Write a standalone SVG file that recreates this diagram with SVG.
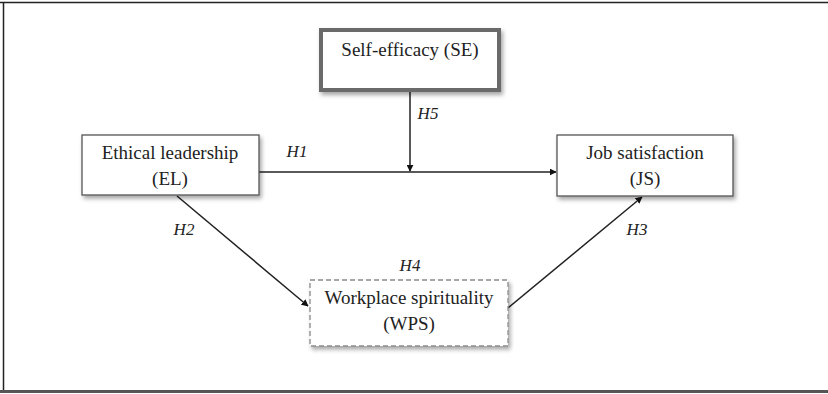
<svg xmlns="http://www.w3.org/2000/svg" width="828" height="394" viewBox="0 0 828 394">
  <style>
    .box { fill: #ffffff; stroke: #555555; stroke-width: 1.3; }
    .thick { stroke: #6a6a6a; stroke-width: 4; }
    .dash { stroke: #8a8a8a; stroke-width: 1.3; stroke-dasharray: 5 3; }
    .lbl { font-family: "Liberation Serif", "DejaVu Serif", serif; font-size: 19px; fill: #222222; text-anchor: middle; }
    .hyp { font-family: "Liberation Serif", "DejaVu Serif", serif; font-size: 17px; font-style: italic; fill: #222222; text-anchor: middle; }
    .edge { stroke: #222222; stroke-width: 1.5; fill: none; marker-end: url(#arrow); }
  </style>
  <defs>
    <marker id="arrow" viewBox="0 0 10 10" refX="9" refY="5" markerWidth="7" markerHeight="7" markerUnits="userSpaceOnUse" orient="auto">
      <path d="M0,0 L10,5 L0,10 z" fill="#111111"/>
    </marker>
    <filter id="shadow" x="-10%" y="-20%" width="125%" height="150%">
      <feDropShadow dx="2" dy="3" stdDeviation="2" flood-color="#000000" flood-opacity="0.35"/>
    </filter>
  </defs>

  <rect width="828" height="394" fill="#ffffff"/>

  <!-- outer frame -->
  <g id="frame">
    <line x1="0" y1="2.5" x2="828" y2="2.5" stroke="#222" stroke-width="1.5"/>
    <line x1="3.5" y1="2" x2="3.5" y2="392" stroke="#222" stroke-width="1.5"/>
    <line x1="0" y1="391.5" x2="828" y2="391.5" stroke="#555" stroke-width="3"/>
  </g>

  <!-- connectors -->
  <g id="connectors">
    <line class="edge" x1="259" y1="172" x2="556" y2="172"/>
    <line class="edge" x1="410" y1="91" x2="410" y2="171"/>
    <line class="edge" x1="177" y1="196" x2="308" y2="306"/>
    <line class="edge" x1="508" y1="308" x2="642" y2="197"/>
    <text class="hyp" x="297" y="157">H1</text>
    <text class="hyp" x="184" y="235">H2</text>
    <text class="hyp" x="637" y="235">H3</text>
    <text class="hyp" x="410" y="271">H4</text>
    <text class="hyp" x="428" y="119">H5</text>
  </g>

  <g id="self-efficacy">
    <rect class="box thick" x="321" y="30" width="178" height="60" filter="url(#shadow)"/>
    <text class="lbl" x="410" y="56">Self-efficacy (SE)</text>
  </g>

  <g id="ethical-leadership">
    <rect class="box" x="82" y="135" width="177" height="60" filter="url(#shadow)"/>
    <text class="lbl" x="170" y="159">Ethical leadership</text>
    <text class="lbl" x="170" y="185">(EL)</text>
  </g>

  <g id="job-satisfaction">
    <rect class="box" x="557" y="135" width="176" height="61" filter="url(#shadow)"/>
    <text class="lbl" x="645" y="159">Job satisfaction</text>
    <text class="lbl" x="645" y="185">(JS)</text>
  </g>

  <g id="workplace-spirituality">
    <rect class="box dash" x="310" y="280" width="198" height="66" filter="url(#shadow)"/>
    <text class="lbl" x="409" y="304">Workplace spirituality</text>
    <text class="lbl" x="409" y="330">(WPS)</text>
  </g>
</svg>
